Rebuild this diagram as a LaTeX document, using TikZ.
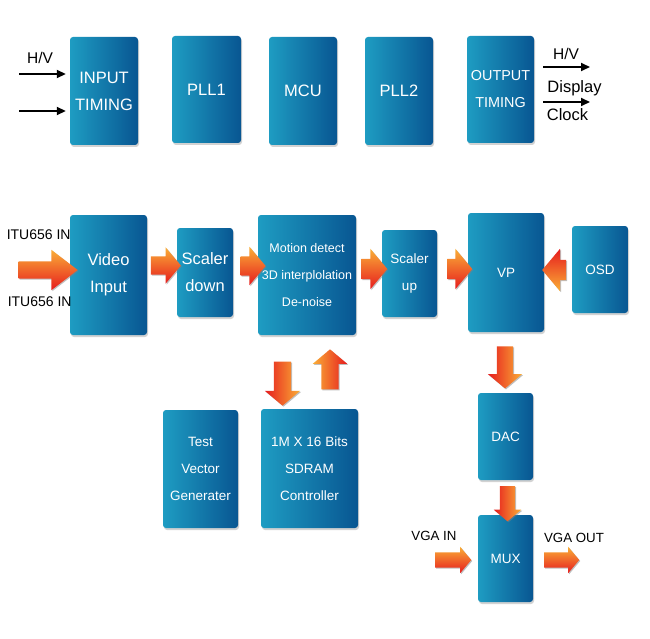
\documentclass[tikz,border=0pt]{standalone}
\usepackage{fontspec}
\setmainfont{Liberation Sans}
\usepackage{tikz}
\usetikzlibrary{shapes.arrows, shadows, arrows.meta}
\definecolor{azulA}{RGB}{30,156,194}
\definecolor{azulB}{RGB}{8,86,146}
\definecolor{naranja}{RGB}{250,174,54}
\definecolor{rojo}{RGB}{230,28,30}
\tikzstyle{nodoBlk} = [rectangle, rounded corners=3pt, left color=azulA, right color=azulB, text=white, align=center, inner sep=0pt, drop shadow={shadow xshift=1pt, shadow yshift=-2pt, opacity=0.35}]
\tikzstyle{txtG} = [font=\fontsize{16.5}{27}\selectfont]
\tikzstyle{txtM} = [font=\fontsize{13.5}{27}\selectfont]
\tikzstyle{txtS} = [font=\fontsize{12.5}{27}\selectfont]
\tikzstyle{txtL} = [font=\fontsize{14}{16}\selectfont, inner sep=0pt]
\tikzstyle{flecha} = [single arrow, inner xsep=0pt, inner ysep=10pt, text height=0pt, text depth=0pt, single arrow head extend=10pt, single arrow tip angle=100, drop shadow={shadow xshift=1pt, shadow yshift=-1pt, opacity=0.5}]
\tikzstyle{flechaR} = [flecha, top color=naranja, bottom color=rojo]
\tikzstyle{flechaL} = [flecha, rotate=180, top color=rojo, bottom color=naranja]
\tikzstyle{flechaD} = [flecha, rotate=-90, left color=rojo, right color=naranja]
\tikzstyle{flechaU} = [flecha, rotate=90, left color=naranja, right color=rojo]
\tikzstyle{linea} = [line width=1.8pt, -{Triangle[length=9pt, width=8pt]}]

\begin{document}
\begin{tikzpicture}[x=1pt, y=-1pt]
    \fill[white] (0,0) rectangle (650,639);
    \path[use as bounding box] (0,0) rectangle (650,639);

    % fila superior
    \node (InTim) [nodoBlk, txtG, minimum width=68, minimum height=108] at (104,91) {INPUT\\TIMING};
    \node (PLL1) [nodoBlk, txtG, minimum width=69, minimum height=107] at (206.5,89.5) {PLL1};
    \node (MCU) [nodoBlk, txtG, minimum width=68, minimum height=108] at (303,91) {MCU};
    \node (PLL2) [nodoBlk, txtG, minimum width=68, minimum height=108] at (399,91) {PLL2};
    \node (OutTim) [nodoBlk, font=\fontsize{14.4}{27}\selectfont, minimum width=67, minimum height=107] at (500.5,89.5) {OUTPUT\\TIMING};

    \coordinate (HVin) at (19,74);
    \coordinate (CKin) at (19,111);
    \coordinate (HVout) at (590,67);
    \coordinate (CKout) at (590,102);
    \draw[linea, shorten >=4pt] (HVin) -- (HVin -| InTim.west);
    \draw[linea, shorten >=4pt] (CKin) -- (CKin -| InTim.west);
    \draw[linea, shorten <=9pt] (HVout -| OutTim.east) -- (HVout);
    \draw[linea, shorten <=9pt] (CKout -| OutTim.east) -- (CKout);
    \node (HVinTxt) [txtL, font=\fontsize{15.5}{16}\selectfont] at (40,57.5) {H/V};
    \node (HVoutTxt) [txtL, font=\fontsize{15.5}{16}\selectfont] at (566,54) {H/V};
    \node (DispTxt) [txtL, font=\fontsize{16.5}{16}\selectfont] at (574.5,88) {Display};
    \node (ClkTxt) [txtL, font=\fontsize{16.5}{16}\selectfont] at (567.5,115) {Clock};

    % fila de video
    \node (VidIn) [nodoBlk, txtG, minimum width=77, minimum height=120] at (108.5,275) {Video\\Input};
    \node (ScDown) [nodoBlk, txtG, minimum width=56, minimum height=89] at (205,272.5) {Scaler\\down};
    \node (Motion) [nodoBlk, txtS, minimum width=98, minimum height=120] at (307,275) {Motion detect\\3D interplolation\\De-noise};
    \node (ScUp) [nodoBlk, txtM, minimum width=55, minimum height=87] at (409.5,273.5) {Scaler\\up};
    \node (VP) [nodoBlk, txtM, minimum width=76, minimum height=119] at (506,272.5) {VP};
    \node (OSD) [nodoBlk, txtM, minimum width=56, minimum height=87] at (600,269.5) {OSD};

    % fila inferior
    \node (TestVec) [nodoBlk, txtM, minimum width=75, minimum height=118] at (200.5,469) {Test\\Vector\\Generater};
    \node (SDRAM) [nodoBlk, txtM, minimum width=97, minimum height=119] at (309.5,468.5) {1M X 16 Bits\\SDRAM\\Controller};
    \node (DAC) [nodoBlk, txtM, minimum width=55, minimum height=87] at (505.5,436.5) {DAC};
    \node (MUX) [nodoBlk, txtM, minimum width=55, minimum height=87] at (505.5,558.5) {MUX};

    % flechas gruesas
    \node (ITU) [flechaR, minimum height=59, inner ysep=8.5pt, single arrow head extend=11.5pt, single arrow tip angle=75] at (42.5,270) {};
    \node (F1) [flechaR, minimum height=30, inner ysep=9pt, single arrow head extend=9pt] at (162,265.5) {};
    \node (F2) [flechaR, minimum height=25, inner ysep=9.5pt, single arrow head extend=9.5pt] at (249,266) {};
    \node (F3) [flechaR, minimum height=26] at (370,269) {};
    \node (F4) [flechaR, minimum height=25] at (455.5,269) {};
    \node (F5) [flechaL, minimum height=24, single arrow head extend=11pt] at (558.5,270) {};
    \node (F6) [flechaD, minimum height=44, inner ysep=8.5pt, single arrow head extend=9pt] at (282.5,380) {};
    \node (F7) [flechaU, minimum height=40, inner ysep=8.5pt, single arrow head extend=8.5pt] at (330,373) {};
    \node (F8) [flechaD, minimum height=42, inner ysep=8pt, single arrow head extend=9pt] at (505,364) {};
    \node (F9) [flechaD, minimum height=35, inner ysep=7.5pt, single arrow head extend=6pt] at (507.5,500.5) {};
    \node (F10) [flechaR, minimum height=36, inner ysep=7.5pt, single arrow head extend=5.5pt] at (450,560) {};
    \node (F11) [flechaR, minimum height=35, inner ysep=7.5pt, single arrow head extend=5.5pt] at (558.5,560) {};

    \node (ITUa) [txtL] at (38.7,235) {ITU656 IN};
    \node (ITUb) [txtL] at (39.7,301.7) {ITU656 IN};
    \node (VGAin) [txtL, font=\fontsize{13.3}{16}\selectfont] at (434,535.7) {VGA IN};
    \node (VGAout) [txtL, font=\fontsize{13.3}{16}\selectfont] at (574,538) {VGA OUT};
\end{tikzpicture}
\end{document}
